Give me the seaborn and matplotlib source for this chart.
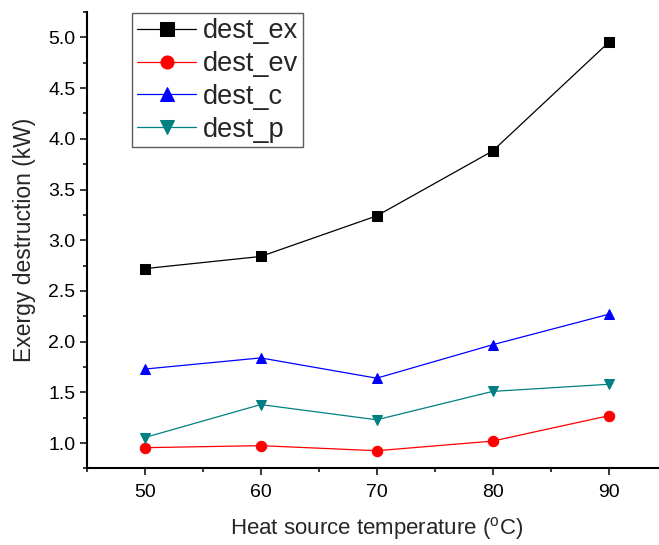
import matplotlib
matplotlib.use("Agg")
import matplotlib.pyplot as plt
import seaborn as sns
import pandas as pd
from matplotlib.ticker import MultipleLocator

temperature = [50, 60, 70, 80, 90]
dest_ex = [2.72, 2.84, 3.24, 3.88, 4.95]
dest_ev = [0.955, 0.975, 0.925, 1.02, 1.27]
dest_c = [1.73, 1.84, 1.64, 1.97, 2.27]
dest_p = [1.055, 1.38, 1.23, 1.51, 1.58]

series_names = ["dest_ex", "dest_ev", "dest_c", "dest_p"]
series_values = [dest_ex, dest_ev, dest_c, dest_p]
colors = ["#000000", "#FF0000", "#0000FF", "#008080"]
markers = ["s", "o", "^", "v"]

sns.set_style("ticks")
plt.rcParams["font.family"] = ["Liberation Sans", "DejaVu Sans"]
plt.rcParams["mathtext.fontset"] = "custom"
plt.rcParams["mathtext.rm"] = "Liberation Sans"

fig = plt.figure(figsize=(6.59, 5.45), dpi=100)
ax = fig.add_axes([0.1316, 0.1404, 0.880, 0.8376])

for name, vals, c, m in zip(series_names, series_values, colors, markers):
    df = pd.DataFrame({"T": temperature, "v": vals})
    sns.lineplot(data=df, x="T", y="v", ax=ax, color=c, marker=m,
                 markersize=7.5, markeredgecolor=c, linewidth=0.9, label=name)

ax.set_xlim(45, 95)
ax.set_ylim(0.75, 5.25)
ax.xaxis.set_major_locator(MultipleLocator(10))
ax.xaxis.set_minor_locator(MultipleLocator(5))
ax.yaxis.set_major_locator(MultipleLocator(0.5))
ax.yaxis.set_minor_locator(MultipleLocator(0.25))
ax.yaxis.set_major_formatter(matplotlib.ticker.FormatStrFormatter("%.1f"))

for side in ["top", "right"]:
    ax.spines[side].set_visible(False)
for side in ["left", "bottom"]:
    ax.spines[side].set_linewidth(1.5)
    ax.spines[side].set_color("black")

ax.tick_params(which="major", direction="out", length=5, width=1.1,
               labelsize=14, colors="black", pad=3)
ax.tick_params(which="minor", direction="out", length=3, width=1.1, colors="black")
ax.tick_params(axis="x", which="major", pad=6)

ax.set_xlabel("Heat source temperature ($^{\\mathrm{o}}$C)", fontsize=16, labelpad=10)
ax.set_ylabel("Exergy destruction (kW)", fontsize=16.5, labelpad=9)

leg = ax.legend(loc="upper left", bbox_to_anchor=(0.078, 0.997), fontsize=19.5,
                frameon=True, fancybox=False, edgecolor="#333333",
                handlelength=2.2, handletextpad=0.25, labelspacing=0.25,
                borderpad=0.18, borderaxespad=0, markerscale=1.25)
leg.get_frame().set_linewidth(1.0)

fig.savefig("out.png", dpi=100)
